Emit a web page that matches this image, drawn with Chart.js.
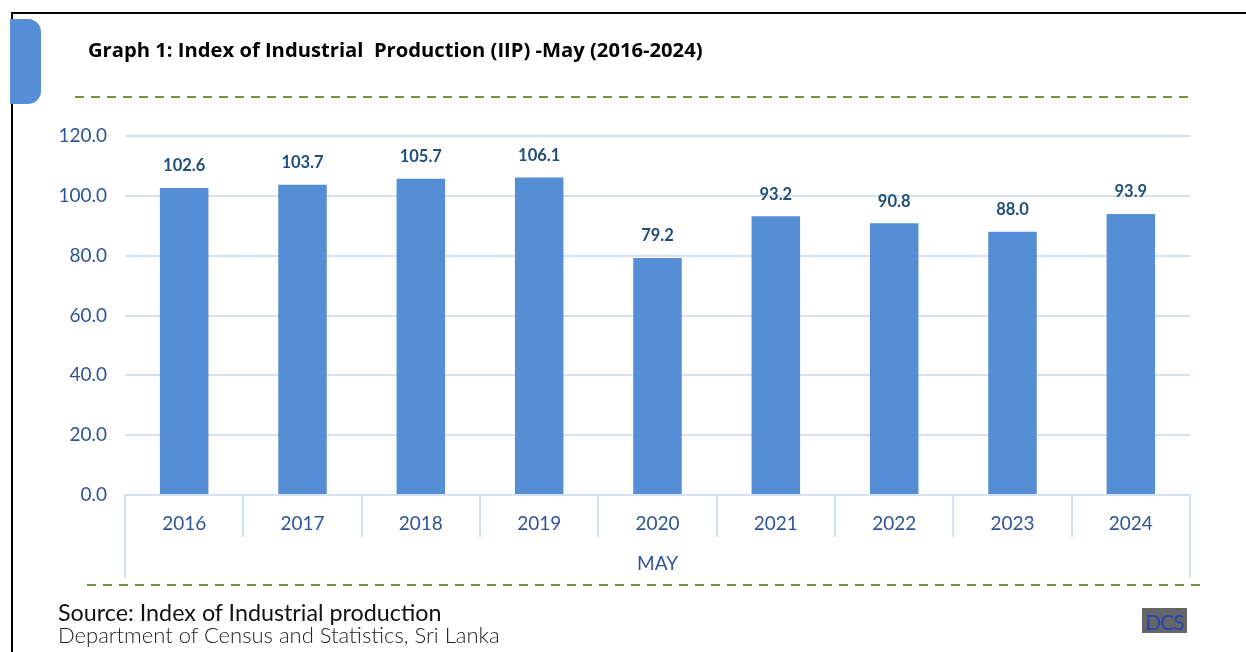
<!DOCTYPE html>
<html>
<head>
<meta charset="utf-8">
<script src="https://cdn.jsdelivr.net/npm/chart.js@4.4.0/dist/chart.umd.min.js"></script>
<style>
  body { margin: 0; background: #fff; }
  #wrap { position: relative; width: 1246px; height: 652px; overflow: hidden; font-family: Lato, "Open Sans", sans-serif; }
  #chart { position: absolute; left: 0; top: 0; }
  .frameTop { position: absolute; left: 11px; top: 12px; width: 1235px; height: 2px; background: #000; }
  .frameLeft { position: absolute; left: 11px; top: 12px; width: 2px; height: 640px; background: #000; }
  .tab { position: absolute; left: 10px; top: 19px; width: 31px; height: 85px; background: #558ED5; border-radius: 0 13px 13px 0; }
  .title { position: absolute; left: 88px; top: 35px; font-family: "Open Sans", sans-serif; font-weight: bold; font-size: 20.2px; color: #000; white-space: pre; }
  .src1 { position: absolute; left: 58px; top: 598px; font-size: 23.3px; color: #111; }
  .src2 { position: absolute; left: 58px; top: 621px; font-size: 22px; font-weight: 300; color: #222; }
  .logo { position: absolute; left: 1142px; top: 608px; width: 45px; height: 25px; background: #666; color: #2546b5; font-size: 21px; line-height: 27px; text-align: center; letter-spacing: -1px; }
</style>
</head>
<body>
<div id="wrap">
  <canvas id="chart" width="1246" height="652"></canvas>
  <div class="frameTop"></div>
  <div class="frameLeft"></div>
  <div class="tab"></div>
  <div class="title">Graph 1: Index of Industrial  Production (IIP) -May (2016-2024)</div>
  <div class="src1">Source: Index of Industrial production</div>
  <div class="src2">Department of Census and Statistics, Sri Lanka</div>
  <div class="logo">DCS</div>
</div>
<script>
const years = ['2016', '2017', '2018', '2019', '2020', '2021', '2022', '2023', '2024'];
const iipMay = [102.6, 103.7, 105.7, 106.1, 79.2, 93.2, 90.8, 88.0, 93.9];
const groupLabel = 'MAY';

// dashed separators, value labels and the two-level x axis
const extras = {
    id: 'extras',
    afterDraw(chart) {
        const ctx = chart.ctx;
        const area = chart.chartArea;
        ctx.save();
        // green dashed lines
        ctx.strokeStyle = '#77933C';
        ctx.lineWidth = 2;
        ctx.setLineDash([9, 7]);
        ctx.beginPath();
        ctx.moveTo(75, 97); ctx.lineTo(1190, 97);
        ctx.moveTo(87, 585); ctx.lineTo(1202, 585);
        ctx.stroke();
        ctx.setLineDash([]);
        // category separators
        ctx.strokeStyle = '#D6E2F2';
        ctx.lineWidth = 2;
        const step = (area.right - area.left) / years.length;
        ctx.beginPath();
        for (let i = 0; i <= years.length; i++) {
            const px = Math.round(area.left + i * step);
            const len = (i === 0 || i === years.length) ? 83 : 42;
            ctx.moveTo(px, area.bottom);
            ctx.lineTo(px, area.bottom + len);
        }
        ctx.stroke();
        // group label
        ctx.fillStyle = '#2F5597';
        ctx.font = '19px Lato, "Open Sans", sans-serif';
        ctx.textAlign = 'center';
        ctx.textBaseline = 'middle';
        ctx.fillText(groupLabel, (area.left + area.right) / 2, 564);
        // value labels
        ctx.fillStyle = '#1F4E79';
        ctx.font = 'bold 16.5px Lato, "Open Sans", sans-serif';
        const meta = chart.getDatasetMeta(0);
        meta.data.forEach((bar, i) => {
            ctx.fillText(iipMay[i].toFixed(1), bar.x, bar.y - 22);
        });
        ctx.restore();
    }
};

new Chart(document.getElementById('chart'), {
    type: 'bar',
    data: {
        labels: years,
        datasets: [{
            data: iipMay,
            backgroundColor: '#558ED5',
            categoryPercentage: 1.0,
            barPercentage: 0.41
        }]
    },
    options: {
        responsive: false,
        animation: false,
        layout: { padding: { left: 0, right: 56, top: 136, bottom: 0 } },
        plugins: { legend: { display: false }, tooltip: { enabled: false } },
        scales: {
            y: {
                min: 0,
                max: 120,
                ticks: {
                    stepSize: 20,
                    padding: 18,
                    color: '#2F5597',
                    font: { size: 19, family: 'Lato, "Open Sans", sans-serif' },
                    callback: v => v.toFixed(1)
                },
                grid: { color: '#D6E2F2', lineWidth: 2, drawTicks: false },
                border: { display: false },
                afterFit: s => { s.width = 125; }
            },
            x: {
                grid: { display: false },
                border: { display: true, color: '#D6E2F2', width: 2 },
                ticks: {
                    padding: 9,
                    color: '#2F5597',
                    font: { size: 19, family: 'Lato, "Open Sans", sans-serif' }
                },
                afterFit: s => { s.height = 157; }
            }
        }
    },
    plugins: [extras]
});
</script>
</body>
</html>
